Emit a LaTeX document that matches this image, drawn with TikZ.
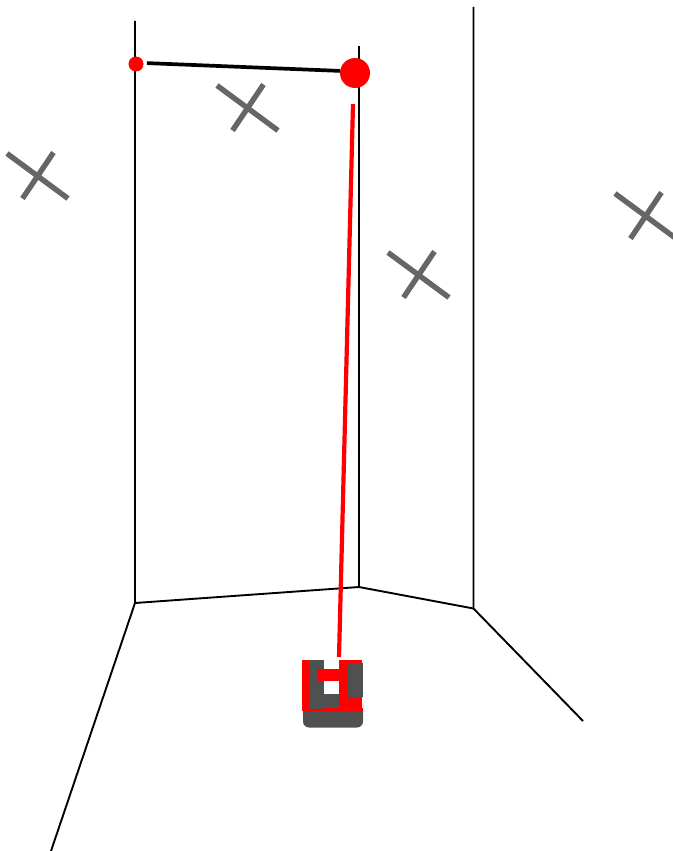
\documentclass[tikz,border=0pt]{standalone}
\usepackage{xcolor}
\usepackage{tikz}
\usetikzlibrary{positioning,calc}
\definecolor{rougeVif}{RGB}{255,0,0}
\definecolor{grisCroix}{RGB}{102,102,102}
\definecolor{grisRobot}{RGB}{80,80,80}

\begin{document}
\begin{tikzpicture}[x=1pt,y=-1pt,
  w/.style={black,line width=1.9pt},
  c/.style={grisCroix,line width=5.4pt},
  d/.style={circle,fill=rougeVif,inner sep=0pt,outer sep=0pt},
  r/.style={fill=rougeVif},
  g/.style={fill=grisRobot}]

  \useasboundingbox (0,0) rectangle (672,851);

  % walls
  \coordinate (t1) at (135,21);
  \coordinate (t2) at (359,46);
  \coordinate (t3) at (473.5,7);
  \coordinate (b1) at (135,603);
  \coordinate (b2) at (359,587);
  \coordinate (b3) at (473.5,608.5);
  \coordinate (f1) at (51,851);
  \coordinate (f3) at (583,721);
  \draw[w] (t1)--(b1)--(f1);
  \draw[w] (t2)--(b2);
  \draw[w] (t3)--(b3)--(f3);
  \draw[w] (b1)--(b2)--(b3);

  % crosses
  \foreach \px/\py in {217/85.5,7/153.5,388/252.5,615/193.5} {
    \draw[c] (\px,\py)--++(61,45);
    \draw[c] (\px+15.5,\py+45)--++(31,-46);
  }

  % robot
  \fill[g,rounded corners=6pt] (303,695) rectangle (363,727.5);
  \fill[white] (303,660) rectangle (363,708);
  \fill[r] (302,660) rectangle (309,711);
  \fill[r] (309,708) rectangle (363,711);
  \fill[r] (339,660) rectangle (362,708);
  \fill[g] (309,660) rectangle (324,709);
  \fill[r] (317,669) rectangle (339,681);
  \fill[g] (324,694) rectangle (339,708);
  \fill[g] (348,663) rectangle (363,697);

  % markers
  \node[d,minimum size=15pt] (m1) at (136,64) {};
  \node[d,minimum size=30pt] (m2) at (355,73) {};
  \coordinate (l1) at (353,104);
  \coordinate (l2) at (339,657);
  \draw[black,line width=3.7pt,shorten <=3.5pt] (m1.8)--(m2.172);
  \draw[rougeVif,line width=4.2pt] (l1)--(l2);
\end{tikzpicture}
\end{document}
